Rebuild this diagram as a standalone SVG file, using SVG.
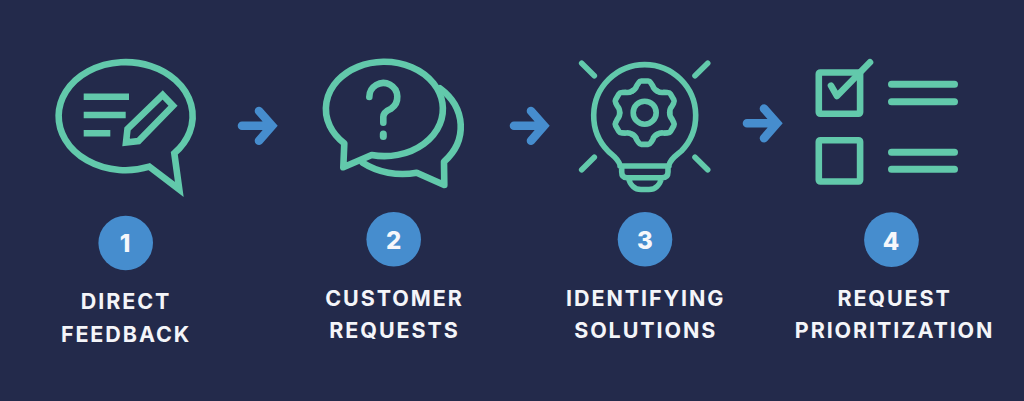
<svg xmlns="http://www.w3.org/2000/svg" xmlns:xlink="http://www.w3.org/1999/xlink" width="1024" height="401" viewBox="0 0 1024 401">
<style>
.i{fill:none;stroke:#62c9ab;stroke-width:6.6}
.r{stroke-linecap:round;stroke-linejoin:round}
.w7{stroke-width:7}
.w5{stroke-width:5.6}
.a{fill:none;stroke:#468dce;stroke-width:8.6;stroke-linecap:round;stroke-linejoin:miter}
.c{fill:#468dce}
.n{font-family:"Inter","Liberation Sans",sans-serif;font-weight:800;font-size:24px;fill:#f6f7fb;text-anchor:middle}
.t{font-family:"Inter","Liberation Sans",sans-serif;font-weight:700;font-size:21.5px;letter-spacing:1.9px;fill:#f4f5f9;text-anchor:middle}
</style>
<defs>
<path id="tooth" class="i r w5" d="M-12.5-21.65Q-9-23.5-8-27L-6-30Q-5-31.7-3.5-31.7L3.5-31.7Q5-31.7 6-30L8-27Q9-23.5 12.5-21.65"/>
<path id="arrow" class="a" d="M242 125.7H272M259 111L272 125.7L259 140.7"/>
</defs>
<rect width="1024" height="401" fill="#232a4b"/>
<g id="connectors">
<use xlink:href="#arrow" href="#arrow"/>
<use xlink:href="#arrow" href="#arrow" transform="translate(272 0)"/>
<use xlink:href="#arrow" href="#arrow" transform="translate(505 -2.4)"/>
</g>
<g id="node-1">
<path class="i" d="M174.3 153.3L179.3 189.5L149.3 166.7A67 54 0 1 1 174.3 153.3Z"/>
<path class="i" d="M83.7 96.7H129M83.7 115H125.7M83.7 133.3H110.3"/>
<path class="i" d="M162.7 95L173 105.7L138.5 141L126 142.5L127.5 129Z"/>
<circle class="c" cx="125.7" cy="243" r="27.3"/>
<text class="n" x="125" y="252.4">1</text>
<text class="t" x="126" y="309.3">DIRECT</text>
<text class="t" x="126" y="341.7">FEEDBACK</text>
</g>
<g id="node-2">
<path class="i r" d="M344.3 143.3L343.3 167.3L371.7 155A58.5 47.2 0 1 0 344.3 143.3Z"/>
<path class="i r" d="M440 88.3A64 52 0 0 1 444 161.7L444.3 185L416.7 172.7A64 52 0 0 1 362.7 162.7"/>
<path class="i r" d="M369.3 97A14 14 0 1 1 391 108.7Q383.3 112 383.3 117V122.7"/>
<path class="i r w7" d="M383.3 134V136.5"/>
<circle class="c" cx="393.7" cy="239.3" r="27.3"/>
<text class="n" x="393.7" y="248.7">2</text>
<text class="t" x="394.5" y="305.7">CUSTOMER</text>
<text class="t" x="394.5" y="337.7">REQUESTS</text>
</g>
<g id="node-3">
<path class="i r w5" d="M620 165C618 158 612 155 608 151A51 51 0 1 1 681.4 151C677 155 671 158 669 165M620 166H669M621.7 166V172Q621.7 177.7 627 177.7H662Q668 177.7 668 172V166M628.5 178C630 185 635 189.5 641 189.5H649C655 189.5 660 185 661.5 178"/>
<path class="i r w5" d="M581.7 63.3L594.3 75.7M707.7 63.3L695 75.7M594.3 157.3L581.7 169.7M695 157.3L707.7 169.7"/>
<circle class="i w5" cx="644.7" cy="112.7" r="11.5"/>
<g transform="translate(644.7 112.7)">
<use xlink:href="#tooth" href="#tooth"/>
<use xlink:href="#tooth" href="#tooth" transform="rotate(60)"/>
<use xlink:href="#tooth" href="#tooth" transform="rotate(120)"/>
<use xlink:href="#tooth" href="#tooth" transform="rotate(180)"/>
<use xlink:href="#tooth" href="#tooth" transform="rotate(240)"/>
<use xlink:href="#tooth" href="#tooth" transform="rotate(300)"/>
</g>
<circle class="c" cx="645" cy="239.3" r="27.3"/>
<text class="n" x="645" y="248.7">3</text>
<text class="t" x="645.7" y="305.7">IDENTIFYING</text>
<text class="t" x="645.7" y="337.7">SOLUTIONS</text>
</g>
<g id="node-4">
<rect class="i" x="818.8" y="72.5" width="41.3" height="41.3" rx="1.5"/>
<rect class="i" x="818.8" y="140.2" width="41.3" height="41.3" rx="1.5"/>
<path class="i r" d="M831 85.7L837 96L870 62.3"/>
<path class="i r w7" d="M891.5 84.3H954.5M891.5 101.7H954.5M891.5 152.3H954.5M891.5 169.3H954.5"/>
<circle class="c" cx="891.5" cy="239.7" r="27.4"/>
<text class="n" x="891" y="249.7">4</text>
<text class="t" x="894.6" y="305.7">REQUEST</text>
<text class="t" x="894.6" y="337.7">PRIORITIZATION</text>
</g>
</svg>
